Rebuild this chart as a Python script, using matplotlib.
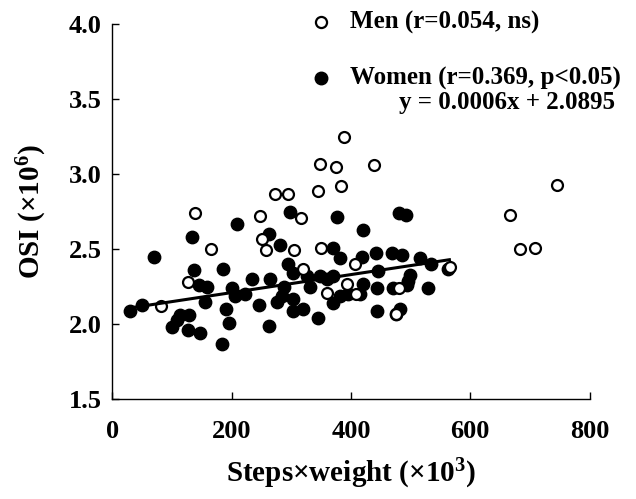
"""OSI vs steps x weight scatter, men (open) vs women (filled) with women regression line."""

import matplotlib

matplotlib.use("Agg")
import matplotlib.pyplot as plt
import numpy as np

plt.rcParams["font.family"] = ["Liberation Serif", "DejaVu Serif"]
plt.rcParams["font.weight"] = "bold"
plt.rcParams["mathtext.fontset"] = "custom"
plt.rcParams["mathtext.rm"] = "Liberation Serif:bold"
plt.rcParams["mathtext.default"] = "rm"

# men, open circles
men_x = [139, 165, 127, 82, 247, 273, 294, 345, 384, 316, 250, 257, 305, 349, 406,
         359, 409, 320, 394, 389, 348, 375, 439, 745, 667, 683, 708, 566, 475, 480]
men_y = [2.74, 2.50, 2.28, 2.12, 2.72, 2.87, 2.87, 2.89, 2.92, 2.71, 2.57, 2.49, 2.49, 2.51, 2.40,
         2.21, 2.20, 2.37, 2.27, 3.25, 3.07, 3.05, 3.06, 2.93, 2.73, 2.50, 2.51, 2.38, 2.07, 2.24]

# women, filled circles
women_x = [208, 133, 69, 137, 185, 145, 159, 155, 200, 206, 29, 50, 190, 114, 128, 109, 99,
           127, 146, 195, 184,
           298, 376, 420, 263, 281, 370, 381, 418, 295, 303, 326, 348, 370, 234, 264, 222,
           245, 276, 303, 320, 303, 370, 382, 395, 345, 263, 331, 287, 284, 359,
           481, 492, 442, 468, 486, 515, 535, 562, 446, 496, 499, 494, 443, 470, 529, 443,
           475, 482, 415, 420]
women_y = [2.67, 2.58, 2.45, 2.36, 2.37, 2.26, 2.25, 2.15, 2.24, 2.19, 2.09, 2.13, 2.10, 2.06,
           2.06, 2.03, 1.98, 1.96, 1.94, 2.01, 1.87,
           2.745, 2.716, 2.627, 2.60, 2.53, 2.51, 2.44, 2.45, 2.40, 2.34, 2.32, 2.32, 2.32,
           2.30, 2.30, 2.20, 2.13, 2.15, 2.17, 2.10, 2.09, 2.14, 2.19, 2.20, 2.04, 1.99, 2.25,
           2.25, 2.19, 2.30,
           2.74, 2.73, 2.47, 2.47, 2.46, 2.44, 2.40, 2.37, 2.355, 2.29, 2.33, 2.26, 2.24, 2.24,
           2.24, 2.09, 2.07, 2.10, 2.20, 2.27]

slope = 0.0006
intercept = 2.0895
fit_range = [29, 565]

x_ticks = [0, 200, 400, 600, 800]
y_ticks = [1.5, 2.0, 2.5, 3.0, 3.5, 4.0]

fig = plt.figure(figsize=(6.36, 4.99), dpi=100)
ax = fig.add_axes([112.5 / 636, 1 - 399 / 499, (589.5 - 112.5) / 636, (399 - 24) / 499])

ax.scatter(men_x, men_y, s=62, facecolors="white", edgecolors="black", linewidths=1.6, zorder=3)
ax.scatter(women_x, women_y, s=80, color="black", zorder=2)
fx = np.array(fit_range, dtype=float)
ax.plot(fx, slope * fx + intercept, color="black", linewidth=2.2, zorder=4)

ax.set_xlim(0, 800)
ax.set_ylim(1.5, 4.0)
ax.set_xticks(x_ticks)
ax.set_yticks(y_ticks)
ax.set_yticklabels([f"{v:.1f}" for v in y_ticks])
ax.tick_params(direction="in", length=5, width=1, labelsize=19)
ax.tick_params(axis="y", pad=8)
ax.tick_params(axis="x", pad=15)
for s in ("top", "right"):
    ax.spines[s].set_visible(False)
ax.spines["left"].set_linewidth(1)
ax.spines["bottom"].set_linewidth(1)

ax.set_xlabel("Steps×weight (×10$^{3}$)", fontsize=21, fontweight="bold", labelpad=10)
ax.set_ylabel("OSI (×10$^{6}$)", fontsize=21, fontweight="bold", labelpad=14)

# legend drawn as markers + text in figure pixels
fig.lines.append(plt.Line2D([321 / 636], [1 - 22 / 499], transform=fig.transFigure, marker="o",
                            markersize=8, markerfacecolor="white", markeredgecolor="black",
                            markeredgewidth=1.6, linestyle="none"))
fig.lines.append(plt.Line2D([321 / 636], [1 - 78 / 499], transform=fig.transFigure, marker="o",
                            markersize=9, color="black", linestyle="none"))
fig.text(350 / 636, 1 - 22 / 499, "Men (r=0.054, ns)", fontsize=18, fontweight="bold", va="center")
fig.text(350 / 636, 1 - 78 / 499, "Women (r=0.369, p<0.05)", fontsize=18, fontweight="bold", va="center")
fig.text(615 / 636, 1 - 103 / 499, "y = 0.0006x + 2.0895", fontsize=18, fontweight="bold",
         va="center", ha="right")

fig.savefig("out.png", dpi=100)
